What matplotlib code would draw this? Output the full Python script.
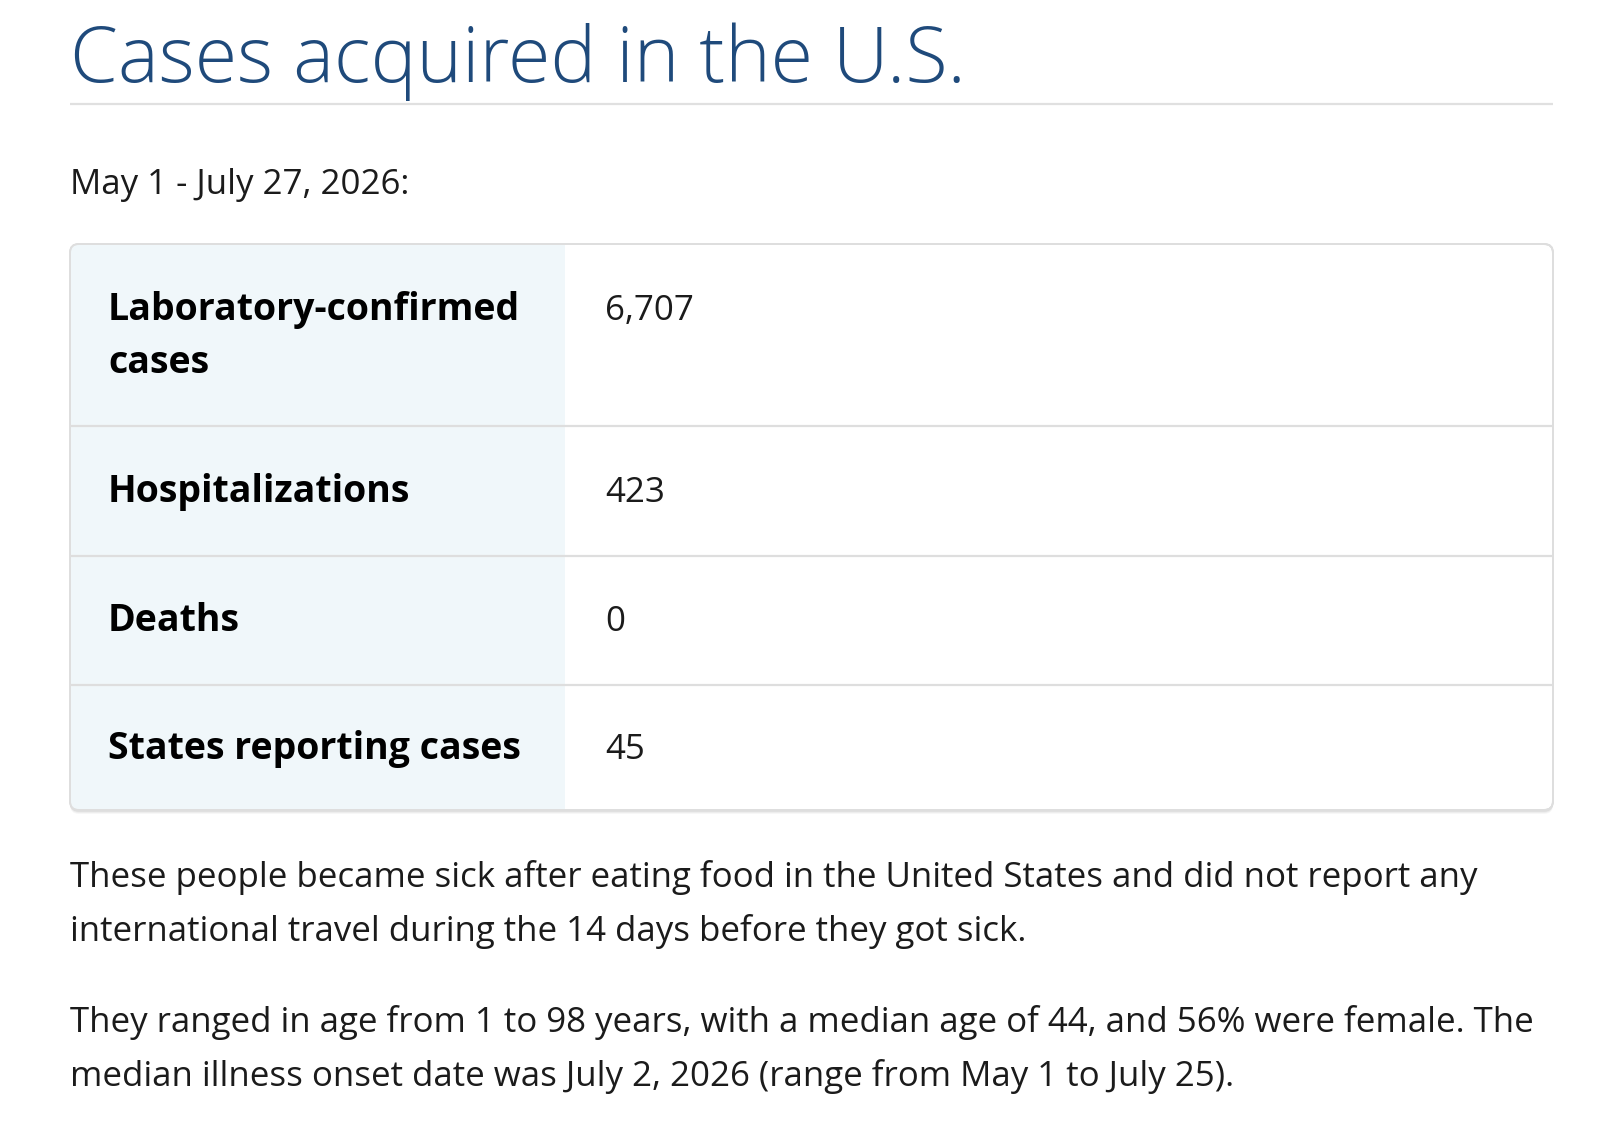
import matplotlib.pyplot as plt
from matplotlib.patches import FancyBboxPatch, Rectangle

# === Page content ===
title = "Cases acquired in the U.S."
date_range = "May 1 - July 27, 2026:"
row_labels = [["Laboratory-confirmed", "cases"], ["Hospitalizations"], ["Deaths"], ["States reporting cases"]]
row_values = ["6,707", "423", "0", "45"]
para_1 = ["These people became sick after eating food in the United States and did not report any",
          "international travel during the 14 days before they got sick."]
para_2 = ["They ranged in age from 1 to 98 years, with a median age of 44, and 56% were female. The",
          "median illness onset date was July 2, 2026 (range from May 1 to July 25)."]

# === Layout (pixels) ===
W, H = 1622, 1128
left, right = 70, 1553
tab_top, tab_bot = 244, 810
col_split = 565
row_edges = [244, 426, 556, 685, 810]

title_col = "#1f4a7b"
text_col = "#1b1b1b"
label_bg = "#f0f7fa"
line_col = "#dedede"

fig = plt.figure(figsize=(W / 100, H / 100), dpi=100)
ax = fig.add_axes([0, 0, 1, 1])
ax.set_xlim(0, W)
ax.set_ylim(H, 0)
ax.axis("off")
renderer = fig.canvas.get_renderer()


def fit_size(s, target_px, **kw):
    # font size that makes string s about target_px wide
    t = ax.text(0, 0, s, fontsize=20, **kw)
    w = t.get_window_extent(renderer).width
    t.remove()
    return 20 * target_px / w


title_kw = dict(family="Open Sans", weight="light")
body_kw = dict(family="Open Sans")
label_kw = dict(family="Open Sans", weight="bold")

title_fs = fit_size(title, 897, **title_kw)
body_fs = fit_size(para_1[0], 1402, **body_kw)
label_fs = fit_size(row_labels[0][0], 412, **label_kw)

# title + rule
ax.text(left, 82, title, fontsize=title_fs, color=title_col, va="baseline", **title_kw)
ax.plot([left, right], [104, 104], color="#e0e0e0", lw=1.6, solid_capstyle="butt")

ax.text(left, 194, date_range, fontsize=body_fs, color=text_col, va="baseline", **body_kw)

# table shadow
for i, a in enumerate([0.05, 0.04, 0.03]):
    sh = FancyBboxPatch((left, tab_top + 2 + i), right - left, tab_bot - tab_top,
                        boxstyle="round,pad=0,rounding_size=9", fc="#000000", ec="none",
                        alpha=a, zorder=1)
    ax.add_patch(sh)

box = FancyBboxPatch((left, tab_top), right - left, tab_bot - tab_top,
                     boxstyle="round,pad=0,rounding_size=9", fc="white", ec=line_col,
                     lw=1.4, zorder=2)
ax.add_patch(box)

bg = Rectangle((left, tab_top), col_split - left, tab_bot - tab_top, fc=label_bg, ec="none", zorder=3)
ax.add_patch(bg)
bg.set_clip_path(box)

for y in row_edges[1:-1]:
    ax.plot([left, right], [y, y], color=line_col, lw=1.6, zorder=4, solid_capstyle="butt")

# redraw border over fills
edge = FancyBboxPatch((left, tab_top), right - left, tab_bot - tab_top,
                      boxstyle="round,pad=0,rounding_size=9", fc="none", ec=line_col,
                      lw=1.4, zorder=5)
ax.add_patch(edge)

first_base = [320, 502, 631, 759]
for lab, val, yb in zip(row_labels, row_values, first_base):
    for k, part in enumerate(lab):
        ax.text(108, yb + k * 53, part, fontsize=label_fs, color="#000000",
                va="baseline", zorder=6, **label_kw)
    ax.text(605, yb, val, fontsize=body_fs, color=text_col, va="baseline", zorder=6, **body_kw)

for lines, base in [(para_1, 887), (para_2, 1032)]:
    for k, line in enumerate(lines):
        ax.text(left, base + k * 54, line, fontsize=body_fs, color=text_col, va="baseline", **body_kw)

fig.savefig("out.png", dpi=100, facecolor="white")
